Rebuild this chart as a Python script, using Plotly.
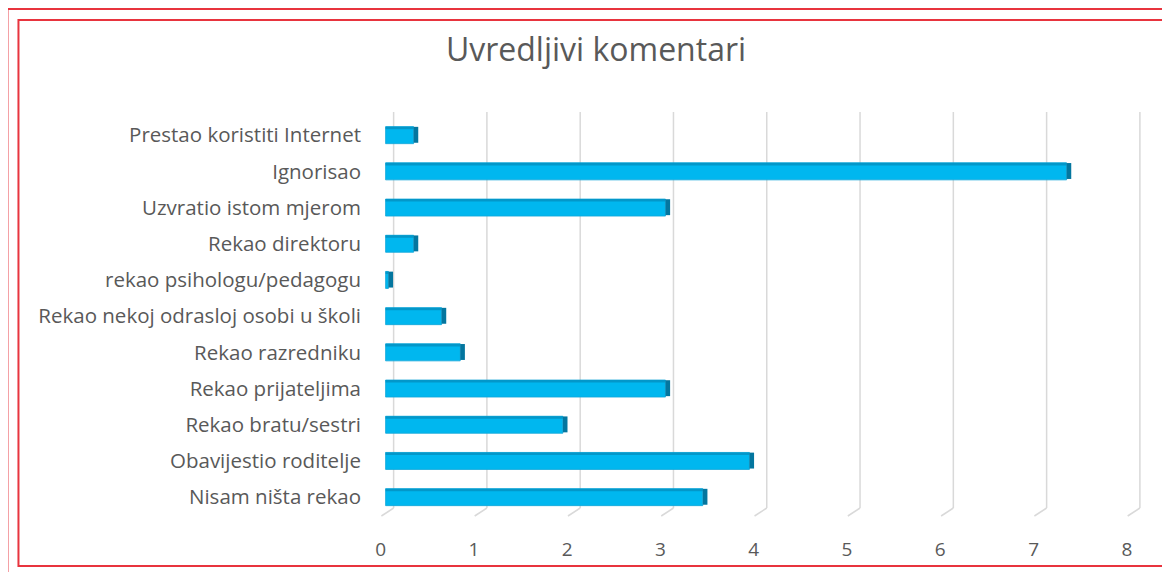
import plotly.graph_objects as go

categories = [
    "Nisam ništa rekao",
    "Obavijestio roditelje",
    "Rekao bratu/sestri",
    "Rekao prijateljima",
    "Rekao razredniku",
    "Rekao nekoj odrasloj osobi u školi",
    "rekao psihologu/pedagogu",
    "Rekao direktoru",
    "Uzvratio istom mjerom",
    "Ignorisao",
    "Prestao koristiti Internet",
]
values = [3.4, 3.9, 1.9, 3.0, 0.8, 0.6, 0.03, 0.3, 3.0, 7.3, 0.3]
tick_vals = [0, 1, 2, 3, 4, 5, 6, 7, 8]
title_text = "Uvredljivi komentari"

W, H = 1170, 572
OFF = 8  # page body margin
UNIT = 93.25  # px per unit
X0, X1 = -0.06, 8.13
ZERO = 386  # pixel of value 0 for bars
L = ZERO + X0 * UNIT - OFF
R = ZERO + X1 * UNIT - OFF
T, B = 112 - OFF, 508 - OFF


def px_x(p):
    return (p - OFF - L) / (R - L)


def px_y(p):
    return (B - (p - OFF)) / (B - T)


fig = go.Figure()
fig.add_trace(go.Bar(
    y=categories, x=values, orientation="h",
    marker=dict(color="#00B7EF", line=dict(color="#10A6D8", width=0.8)),
    width=0.47,
))
# darker top face of the 3D bar
fig.add_trace(go.Bar(
    y=categories, x=values, orientation="h",
    marker=dict(color="#0397C9", line=dict(width=0)),
    width=0.07, offset=0.165,
))
# dark end face
fig.add_trace(go.Bar(
    y=categories, x=[0.05] * len(values), base=values, orientation="h",
    marker=dict(color="#04769F", line=dict(width=0)),
    width=0.44, offset=-0.21,
))

shapes = []
grid_off = 0.086
front_off = -0.045
for v in tick_vals:
    shapes.append(dict(type="line", xref="x", yref="paper",
                       x0=v + grid_off, x1=v + grid_off, y0=0, y1=1,
                       line=dict(color="#D9D9D9", width=1.5), layer="below"))
    shapes.append(dict(type="line", xref="x", yref="paper",
                       x0=v + grid_off, x1=v + front_off, y0=0, y1=px_y(516),
                       line=dict(color="#D9D9D9", width=1.5), layer="below"))

red = "#E8343E"
shapes.append(dict(type="rect", xref="paper", yref="paper",
                   x0=px_x(8), x1=px_x(1195), y0=px_y(9), y1=px_y(600),
                   line=dict(color=red, width=2)))
shapes.append(dict(type="rect", xref="paper", yref="paper",
                   x0=px_x(19), x1=px_x(1195), y0=px_y(20), y1=px_y(566),
                   line=dict(color=red, width=2)))

fig.update_layout(
    width=W, height=H,
    margin=dict(l=L, r=W - R, t=T, b=H - B, pad=0),
    paper_bgcolor="white", plot_bgcolor="white",
    showlegend=False, barmode="overlay",
    shapes=shapes,
    font=dict(family="Open Sans, sans-serif", color="#595959"),
    title=dict(text=title_text, x=(596 - OFF) / W, xanchor="center",
               y=1 - (50 - OFF) / H, yanchor="middle", yref="container",
               font=dict(size=32, color="#595959")),
    xaxis=dict(range=[X0, X1], tickvals=tick_vals, showgrid=False,
               zeroline=False, showline=False, ticks="",
               tickfont=dict(size=19, color="#595959"),
               ticklabelstandoff=28, ticklabelshift=-5),
    yaxis=dict(range=[-0.30, 10.64], showgrid=False, zeroline=False,
               showline=False, ticks="",
               ticklabelstandoff=18,
               tickfont=dict(size=20.5, color="#595959")),
)

fig.write_html("out.html")
